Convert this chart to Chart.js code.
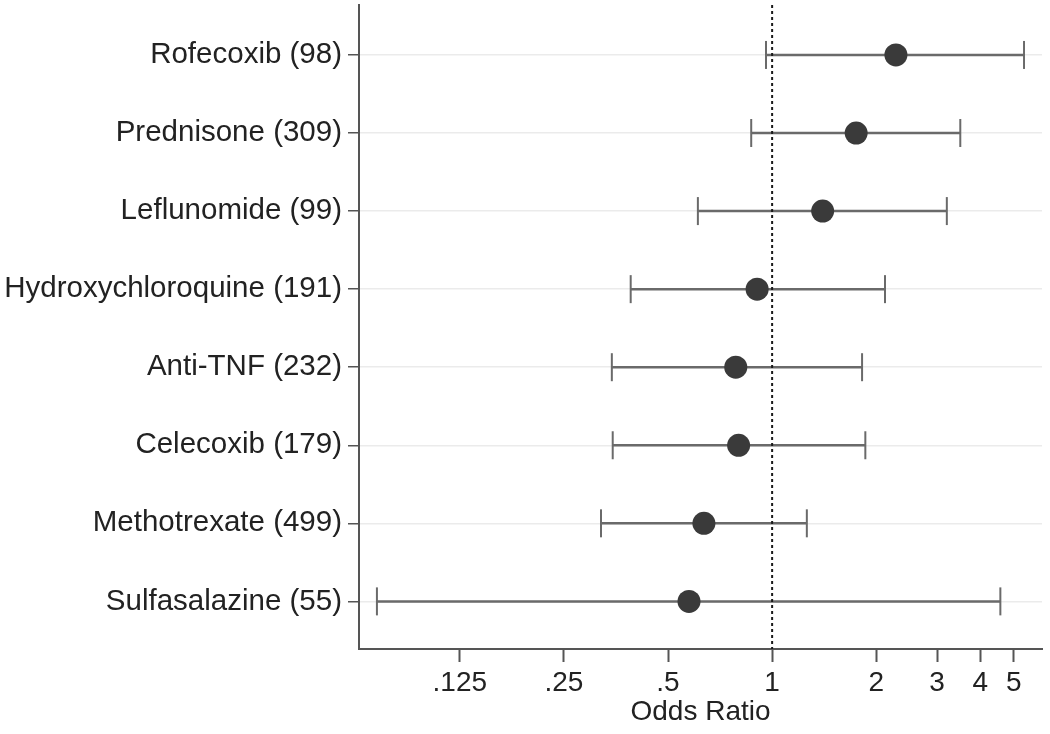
<!DOCTYPE html>
<html>
<head>
<meta charset="utf-8">
<script src="https://cdn.jsdelivr.net/npm/chart.js@4/dist/chart.umd.min.js"></script>
<style>
  html, body { margin: 0; padding: 0; background: #fff; }
  #wrap { width: 1050px; height: 734px; }
</style>
</head>
<body>
<div id="wrap"><canvas id="chart" width="1050" height="734"></canvas></div>
<script>
// drugs, top to bottom
const drugs = [
    'Rofecoxib (98)',
    'Prednisone (309)',
    'Leflunomide (99)',
    'Hydroxychloroquine (191)',
    'Anti-TNF (232)',
    'Celecoxib (179)',
    'Methotrexate (499)',
    'Sulfasalazine (55)'
];
const oddsRatio = [2.28, 1.75, 1.40, 0.905, 0.785, 0.80, 0.635, 0.575];
const ciLow = [0.96, 0.87, 0.61, 0.39, 0.344, 0.346, 0.32, 0.072];
const ciHigh = [5.35, 3.5, 3.2, 2.12, 1.82, 1.86, 1.26, 4.57];

const xTicks = [0.125, 0.25, 0.5, 1, 2, 3, 4, 5];
const xTickLabels = ['.125', '.25', '.5', '1', '2', '3', '4', '5'];

const FONT = "'Liberation Sans', Arial, Helvetica, sans-serif";
const axisColor = '#555';

// point estimates
const datasets = [{
    data: oddsRatio.map((v, i) => ({ x: v, y: i })),
    pointRadius: 11.5,
    pointBackgroundColor: '#3a3a3a',
    pointBorderWidth: 0,
    showLine: false,
    order: 0
}];

// reference line at OR = 1
datasets.push({
    data: [{ x: 1, y: -0.64 }, { x: 1, y: 7.61 }],
    showLine: true,
    borderColor: '#1a1a1a',
    borderWidth: 2,
    borderDash: [3, 3],
    pointRadius: 0,
    order: 1
});

// confidence intervals, caps drawn as rotated line points
drugs.forEach((d, i) => {
    datasets.push({
        data: [{ x: ciLow[i], y: i }, { x: ciHigh[i], y: i }],
        showLine: true,
        borderColor: '#6a6a6a',
        borderWidth: 2.5,
        pointStyle: 'line',
        rotation: 90,
        pointRadius: 14,
        pointBorderColor: '#6a6a6a',
        pointBorderWidth: 2,
        order: 2
    });
});

new Chart(document.getElementById('chart').getContext('2d'), {
    type: 'scatter',
    data: { datasets: datasets },
    options: {
        responsive: false,
        animation: false,
        layout: {
            autoPadding: false,
            padding: { left: 0, top: 5, right: 8, bottom: 0 }
        },
        plugins: {
            legend: { display: false },
            tooltip: { enabled: false }
        },
        scales: {
            x: {
                type: 'logarithmic',
                min: 0.0639,
                max: 6.03,
                afterBuildTicks: (scale) => {
                    scale.ticks = xTicks.map(v => ({ value: v }));
                },
                afterFit: (scale) => {
                    scale.height = 85;
                    scale.paddingLeft = 0;
                    scale.paddingRight = 0;
                },
                ticks: {
                    autoSkip: false,
                    maxRotation: 0,
                    padding: 4,
                    color: '#222',
                    font: { family: FONT, size: 28 },
                    callback: (v, i) => xTickLabels[i]
                },
                grid: {
                    drawOnChartArea: false,
                    tickLength: 13,
                    tickColor: axisColor,
                    tickWidth: 2
                },
                border: { color: axisColor, width: 2 },
                title: {
                    display: true,
                    text: 'Odds Ratio',
                    color: '#222',
                    font: { family: FONT, size: 28 },
                    padding: { top: 0, bottom: 5 }
                }
            },
            y: {
                type: 'linear',
                reverse: true,
                min: -0.64,
                max: 7.61,
                afterBuildTicks: (scale) => {
                    scale.ticks = drugs.map((d, i) => ({ value: i }));
                },
                afterFit: (scale) => {
                    scale.width = 359;
                    scale.paddingTop = 0;
                    scale.paddingBottom = 0;
                },
                ticks: {
                    padding: 6,
                    color: '#222',
                    font: { family: FONT, size: 29.5 },
                    callback: (v) => drugs[v]
                },
                grid: {
                    color: '#ebebeb',
                    lineWidth: 1.5,
                    tickLength: 11,
                    tickColor: axisColor,
                    tickWidth: 1.5
                },
                border: { color: axisColor, width: 2 }
            }
        }
    }
});
</script>
</body>
</html>
